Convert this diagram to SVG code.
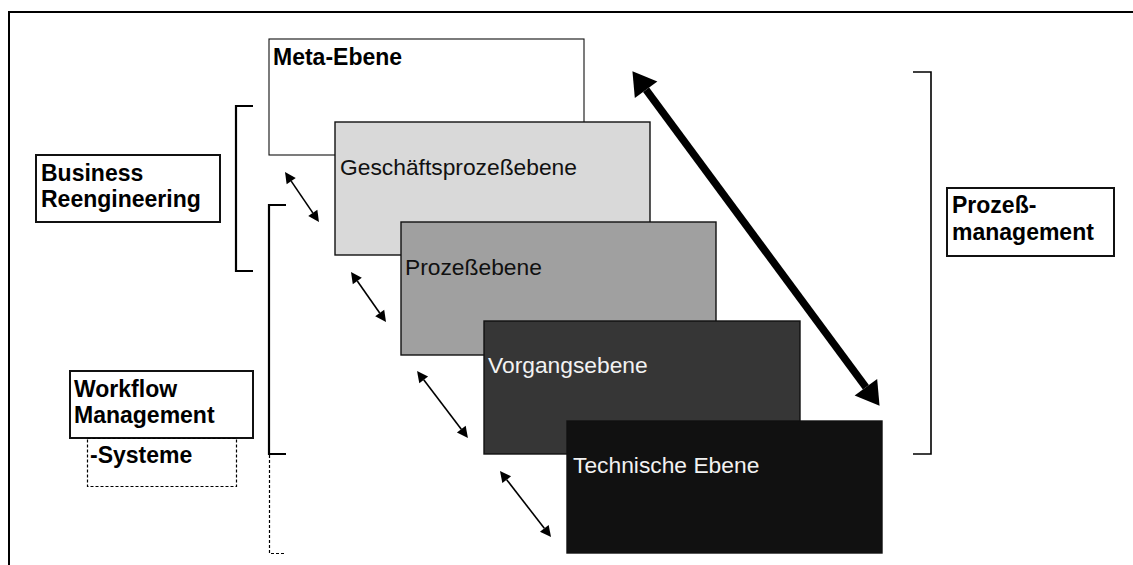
<svg xmlns="http://www.w3.org/2000/svg" width="1133" height="565" viewBox="0 0 1133 565">
<style>
  .lbl { font-family: "Liberation Sans", Arial, sans-serif; font-size: 23px; font-weight: bold; fill: #000; }
  .lvl { font-family: "Liberation Sans", Arial, sans-serif; font-size: 22.8px; }
  .box { stroke: #111; stroke-width: 1.4; }
  .lbox { fill: #fff; stroke: #111; stroke-width: 2; }
  .brk { fill: none; stroke: #000; stroke-width: 2.2; }
  .dot { fill: none; stroke: #000; stroke-width: 1.2; stroke-dasharray: 3 2; }
  .sa { stroke: #000; stroke-width: 1.6; fill: none; }
</style>
<defs>
  <marker id="big" markerUnits="userSpaceOnUse" markerWidth="24" markerHeight="30" refX="0" refY="14" orient="auto-start-reverse" overflow="visible">
    <path d="M0,0 L23,14 L0,28 z" fill="#000"/>
  </marker>
  <marker id="sm" markerUnits="userSpaceOnUse" markerWidth="12" markerHeight="12" refX="0" refY="5.5" orient="auto-start-reverse" overflow="visible">
    <path d="M0,0 L11,5.5 L0,11 z" fill="#000"/>
  </marker>
</defs>
<rect width="1133" height="565" fill="#fff"/>
<g id="frame">
  <path d="M9,565 L9,12 L1133,12" fill="none" stroke="#000" stroke-width="2"/>
</g>
<g id="brackets">
  <path class="brk" d="M253,106 L236,106 L236,271 L253,271"/>
  <path class="brk" d="M286,205 L269,205 L269,454 L286,454"/>
  <path class="dot" d="M269.5,455 L269.5,553.5 L286,553.5"/>
  <path class="brk" style="stroke-width:1.6" d="M913,72 L931,72 L931,454 L913,454"/>
</g>
<g id="meta-ebene">
  <rect x="269" y="39" width="315" height="116" fill="#fff" stroke="#111" stroke-width="1.1"/>
  <text class="lbl" x="273" y="65">Meta-Ebene</text>
</g>
<g id="geschaeftsprozessebene">
  <rect class="box" x="335" y="122" width="315" height="133" fill="#d9d9d9"/>
  <text class="lvl" x="340" y="175" fill="#111">Geschäftsprozeßebene</text>
</g>
<g id="prozessebene">
  <rect class="box" x="401" y="222" width="315" height="133" fill="#a0a0a0"/>
  <text class="lvl" x="405" y="275" fill="#111">Prozeßebene</text>
</g>
<g id="vorgangsebene">
  <rect class="box" x="484" y="321" width="316" height="133" fill="#363636"/>
  <text class="lvl" x="488" y="373" fill="#f2f2f2">Vorgangsebene</text>
</g>
<g id="technische-ebene">
  <rect class="box" x="567" y="421" width="315" height="132" fill="#111111"/>
  <text class="lvl" x="573" y="473" fill="#f2f2f2">Technische Ebene</text>
</g>
<g id="business-reengineering">
  <rect class="lbox" x="36" y="155" width="184" height="67"/>
  <text class="lbl" x="41" y="181">Business</text>
  <text class="lbl" x="41" y="207">Reengineering</text>
</g>
<g id="workflow-management">
  <rect class="lbox" x="70" y="371" width="183" height="67"/>
  <text class="lbl" x="74" y="397">Workflow</text>
  <text class="lbl" x="74" y="423">Management</text>
</g>
<g id="systeme">
  <rect class="dot" x="87.5" y="438.5" width="149" height="48"/>
  <text class="lbl" x="90" y="463">-Systeme</text>
</g>
<g id="prozessmanagement">
  <rect class="lbox" x="947" y="188" width="167" height="68" stroke-width="1.6"/>
  <text class="lbl" x="952" y="213">Prozeß-</text>
  <text class="lbl" x="952" y="240">management</text>
</g>
<g id="connectors">
  <line x1="646.1" y1="89.7" x2="865.9" y2="387.3" stroke="#000" stroke-width="7.5" marker-start="url(#big)" marker-end="url(#big)"/>
  <line class="sa" x1="291.2" y1="181.1" x2="312.8" y2="212.9" marker-start="url(#sm)" marker-end="url(#sm)"/>
  <line class="sa" x1="357.3" y1="281.0" x2="379.7" y2="313.0" marker-start="url(#sm)" marker-end="url(#sm)"/>
  <line class="sa" x1="423.7" y1="379.8" x2="461.3" y2="429.2" marker-start="url(#sm)" marker-end="url(#sm)"/>
  <line class="sa" x1="506.7" y1="479.7" x2="544.3" y2="528.3" marker-start="url(#sm)" marker-end="url(#sm)"/>
</g>
</svg>
